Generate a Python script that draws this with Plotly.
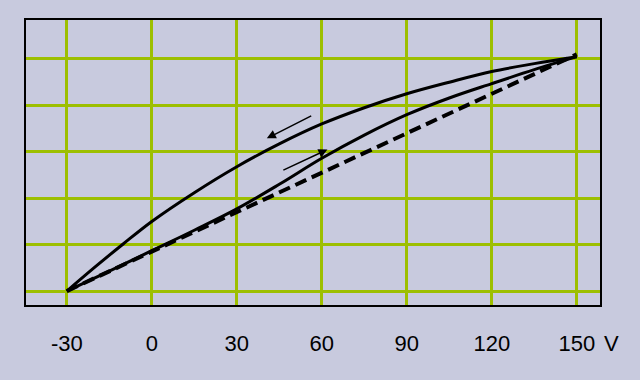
import plotly.graph_objects as go

# Voltage (x) values and responses
tick_vals = [-30, 0, 30, 60, 90, 120, 150]
tick_text = ["-30", "0", "30", "60", "90", "120", "150"]

upper_x = [150, 135, 120, 105, 90, 75, 60, 45, 30, 15, 0, -10, -20, -30]
upper_y = [5.05, 4.9, 4.73, 4.5, 4.25, 3.95, 3.6, 3.17, 2.68, 2.12, 1.5, 1.02, 0.52, 0.0]

lower_x = [-30, -15, 0, 15, 30, 45, 60, 75, 90, 105, 120, 135, 150]
lower_y = [0.0, 0.43, 0.87, 1.31, 1.77, 2.3, 2.86, 3.36, 3.8, 4.16, 4.47, 4.77, 5.05]

dash_x = [-30, 150]
dash_y = [0.0, 5.1]

unit_label = "V"

BG = "rgb(200,202,222)"
GRID = "#9dbf00"
FONT = "Liberation Sans, Arial"

fig = go.Figure()
fig.add_trace(go.Scatter(x=dash_x, y=dash_y, mode="lines",
                         line=dict(color="black", width=4, dash="12px,6px"),
                         showlegend=False, hoverinfo="skip"))
fig.add_trace(go.Scatter(x=lower_x, y=lower_y, mode="lines",
                         line=dict(color="black", width=3, shape="spline"),
                         showlegend=False, hoverinfo="skip"))
fig.add_trace(go.Scatter(x=upper_x, y=upper_y, mode="lines",
                         line=dict(color="black", width=3, shape="spline"),
                         showlegend=False, hoverinfo="skip"))

# direction arrows
fig.add_annotation(x=40.6, y=3.29, ax=56.8, ay=3.79, xref="x", yref="y",
                   axref="x", ayref="y", showarrow=True, arrowhead=2,
                   arrowsize=1.2, arrowwidth=1.5, arrowcolor="black", text="")
fig.add_annotation(x=62.0, y=3.05, ax=45.9, ay=2.59, xref="x", yref="y",
                   axref="x", ayref="y", showarrow=True, arrowhead=2,
                   arrowsize=1.2, arrowwidth=1.5, arrowcolor="black", text="")

# unit label to the right of the last tick label
fig.add_annotation(x=150, y=0, xref="x", yref="paper", yanchor="middle",
                   xanchor="left", text=unit_label, showarrow=False,
                   font=dict(family=FONT, size=22, color="black"),
                   xshift=25, yshift=-38)

fig.update_layout(
    width=640, height=380,
    margin=dict(l=26, r=40, t=20, b=75),
    paper_bgcolor=BG, plot_bgcolor=BG,
    font=dict(family=FONT, size=22, color="black"),
)
fig.update_xaxes(range=[-44.4, 158.2], tickmode="array", tickvals=tick_vals,
                 ticktext=tick_text, showgrid=True, gridcolor=GRID, gridwidth=3,
                 zeroline=False, showline=True, linecolor="black", linewidth=2,
                 mirror=True, ticks="", ticklabelstandoff=18)
fig.update_yaxes(range=[-0.30, 5.84], tickmode="array", tickvals=[0, 1, 2, 3, 4, 5],
                 showticklabels=False, showgrid=True, gridcolor=GRID, gridwidth=3,
                 zeroline=False, showline=True, linecolor="black", linewidth=2,
                 mirror=True, ticks="")

fig.write_html("out.html", config={"displayModeBar": False},
               post_script="document.body.style.margin='0px';document.body.style.overflow='hidden';")
